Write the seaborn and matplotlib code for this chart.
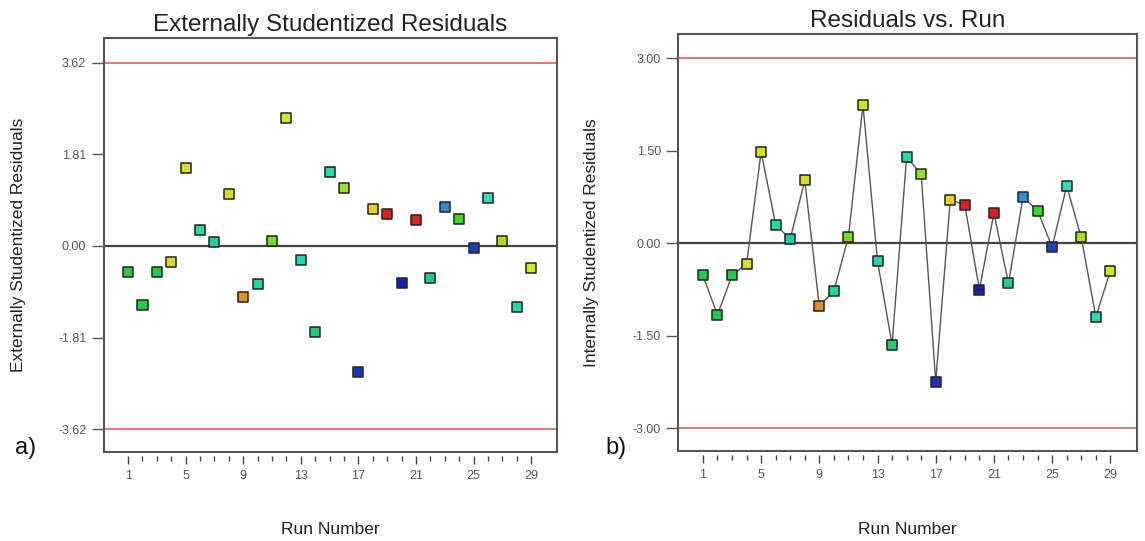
import matplotlib
matplotlib.use("Agg")
import matplotlib.pyplot as plt
from matplotlib.patches import Rectangle
from matplotlib.ticker import FixedLocator
import seaborn as sns
import pandas as pd

# ---- data ----
runs = list(range(1, 30))
ext_resid = [-0.51, -1.17, -0.51, -0.32, 1.54, 0.31, 0.08, 1.03, -1.01, -0.75,
             0.10, 2.52, -0.27, -1.70, 1.45, 1.15, -2.50, 0.72, 0.62, -0.74,
             0.51, -0.64, 0.76, 0.53, -0.04, 0.94, 0.10, -1.21, -0.43]
int_resid = [-0.52, -1.16, -0.52, -0.33, 1.48, 0.30, 0.07, 1.02, -1.02, -0.77,
             0.10, 2.24, -0.29, -1.64, 1.40, 1.12, -2.24, 0.71, 0.62, -0.75,
             0.49, -0.65, 0.75, 0.53, -0.06, 0.93, 0.10, -1.19, -0.45]
point_colors = ["#22cc44", "#22cc44", "#22cc44", "#d4e020", "#d8e020", "#22dd99",
                "#22ccaa", "#d8e020", "#e09020", "#22d8a0", "#77dd22", "#c8e820",
                "#22d8b0", "#22cc77", "#22ddaa", "#99e022", "#1a33bb", "#eed020",
                "#dd2020", "#1122aa", "#dd2020", "#22cc88", "#3388dd", "#33dd22",
                "#1a44bb", "#33ddbb", "#aadd22", "#22ddaa", "#d0e822"]
ext_limits = [-3.62, 3.62]
int_limits = [-3.00, 3.00]
ext_ticks = [-3.62, -1.81, 0.00, 1.81, 3.62]
int_ticks = [-3.00, -1.50, 0.00, 1.50, 3.00]
x_tick_labels = [1, 5, 9, 13, 17, 21, 25, 29]

sns.set_style("white")
plt.rcParams['font.family'] = ['Liberation Sans', 'DejaVu Sans']

df = pd.DataFrame({"run": runs, "ext": ext_resid, "int": int_resid,
                   "key": [str(r) for r in runs]})
palette = {str(r): c for r, c in zip(runs, point_colors)}

fig = plt.figure(figsize=(11.45, 5.41), dpi=100)
ax1 = fig.add_axes([0.0905, 0.1645, 0.3961, 0.7653])
ax2 = fig.add_axes([0.5923, 0.1658, 0.4003, 0.7717])
ylim_lines = {ax1: ext_limits, ax2: int_limits}


def style_axis(ax, ticks, ylim, title, ylabel):
    ax.set_xlim(-0.7, 30.8)
    ax.set_ylim(*ylim)
    ax.set_yticks(ticks)
    ax.set_yticklabels([f"{t:.2f}" for t in ticks])
    ax.xaxis.set_major_locator(FixedLocator(x_tick_labels))
    ax.xaxis.set_minor_locator(FixedLocator([r for r in runs if r not in x_tick_labels]))
    for s in ax.spines.values():
        s.set_visible(False)
    ax.spines['bottom'].set_position(('outward', 3))
    ax.add_patch(Rectangle((0, 0), 1, 1, transform=ax.transAxes, fill=False,
                           edgecolor="#555555", lw=1.5, clip_on=False, zorder=5))
    ax.tick_params(axis='y', which='major', direction='out', length=8.5, width=1,
                   color="#555555", labelsize=9, labelcolor="#555555", pad=4, left=True)
    ax.tick_params(axis='x', which='major', direction='out', length=6, width=1,
                   color="#444444", labelsize=9, labelcolor="#555555", pad=4, bottom=True)
    ax.tick_params(axis='x', which='minor', direction='out', length=3.6, width=1,
                   color="#444444", bottom=True)
    ax.set_title(title, fontsize=17.5, pad=5, color="#222222")
    ax.set_xlabel("Run Number", fontsize=12.5, color="#222222")
    ax.set_ylabel(ylabel, fontsize=12.5, color="#222222")
    ax.xaxis.set_label_coords(0.5, -0.1877)
    ax.yaxis.set_label_coords(-0.1887, 0.5)
    ax.xaxis.label.set_va('center')
    ax.yaxis.label.set_va('center')
    ax.axhline(0, color="#444444", lw=1.6, zorder=1)
    for lim in ylim_lines[ax]:
        ax.axhline(lim, color="#e05050", lw=1.1, zorder=1)


# left panel: scatter
sns.scatterplot(data=df, x="run", y="ext", hue="key", palette=palette, marker="s",
                s=52, edgecolor="#222222", linewidth=1.1, legend=False, ax=ax1, zorder=3)
style_axis(ax1, ext_ticks, (-4.07, 4.105), "Externally Studentized Residuals",
           "Externally Studentized Residuals")

# right panel: line + scatter
sns.lineplot(data=df, x="run", y="int", color="#555555", lw=1.0, ax=ax2, zorder=2,
             sort=False)
sns.scatterplot(data=df, x="run", y="int", hue="key", palette=palette, marker="s",
                s=52, edgecolor="#222222", linewidth=1.1, legend=False, ax=ax2, zorder=3)
style_axis(ax2, int_ticks, (-3.37, 3.395), "Residuals vs. Run",
           "Internally Studentized Residuals")

fig.text(0.0225, 0.1728, "a)", fontsize=17, ha="center", va="center", color="#111111")
fig.text(0.5378, 0.1719, "b)", fontsize=17, ha="center", va="center", color="#111111")

fig.savefig("out.png", dpi=100)
